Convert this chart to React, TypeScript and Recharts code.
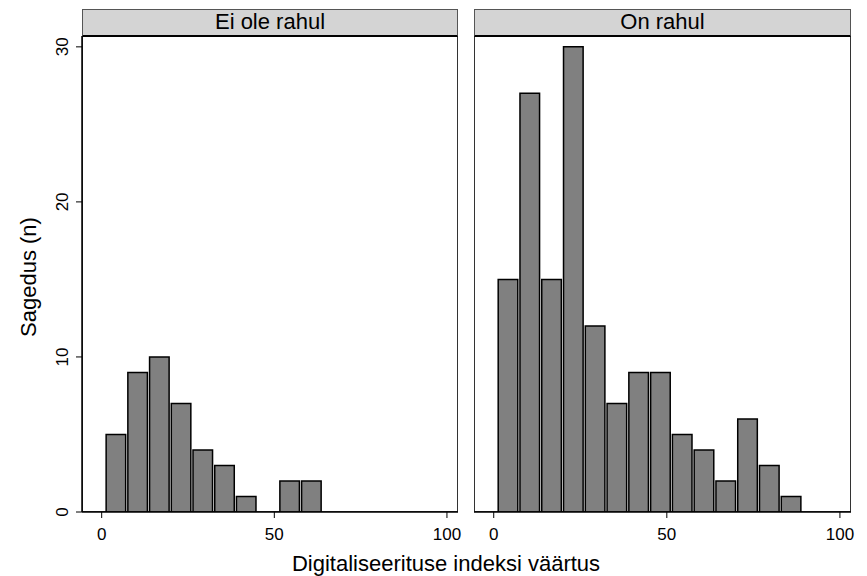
import React from 'react';
import { BarChart, Bar, XAxis, YAxis } from 'recharts';

// histogram bins (same edges for both panels)
const binStart = 1.0;
const binWidth = 6.29;

const panelTitles = ['Ei ole rahul', 'On rahul'];
const countsNotSatisfied = [5, 9, 10, 7, 4, 3, 1, 0, 2, 2];
const countsSatisfied = [15, 27, 15, 30, 12, 7, 9, 9, 5, 4, 2, 6, 3, 1];

const xTicks = [0, 50, 100];
const yTicks = [0, 10, 20, 30];
const xTitle = 'Digitaliseerituse indeksi väärtus';
const yTitle = 'Sagedus (n)';

const FONT = '"Liberation Sans", Arial, Helvetica, sans-serif';
const X_DOMAIN: [number, number] = [-5.7, 103.2];
const Y_DOMAIN: [number, number] = [0, 30.7];
const PLOT_TOP = 36;
const PLOT_BOTTOM = 512;
const CHART_H = 576;

const toBins = (counts: number[]) =>
  counts.map((n, i) => ({ mid: binStart + (i + 0.5) * binWidth, n }));

const YTick = (props: any) => {
  const { y, payload } = props;
  const x = 68;
  return (
    <text
      x={x}
      y={y}
      transform={`rotate(-90, ${x}, ${y})`}
      textAnchor="middle"
      fontSize={17}
      fill="#000"
      fontFamily={FONT}
    >
      {payload.value}
    </text>
  );
};

interface PanelProps {
  title: string;
  counts: number[];
  left: number;
  plotLeft: number;
  plotRight: number;
  showY: boolean;
}

const Panel = ({ title, counts, left, plotLeft, plotRight, showY }: PanelProps) => {
  const data = toBins(counts);
  const yAxisW = showY ? plotLeft - left : 0;
  const marginLeft = showY ? 0 : plotLeft - left;
  const width = plotRight - left + 12;
  const plotW = plotRight - plotLeft;
  const barSize = (binWidth * plotW) / (X_DOMAIN[1] - X_DOMAIN[0]);

  return (
    <>
      <div
        style={{
          position: 'absolute',
          left: plotLeft,
          top: 9,
          width: plotW,
          height: PLOT_BOTTOM - 9,
          boxSizing: 'border-box',
          border: '1px solid #333',
        }}
      />
      <div
        style={{
          position: 'absolute',
          left: plotLeft,
          top: 9,
          width: plotW,
          height: PLOT_TOP - 9 + 1,
          boxSizing: 'border-box',
          background: '#d4d4d4',
          border: '1px solid #555',
          borderBottom: '2px solid #000',
          textAlign: 'center',
          fontSize: 22,
          lineHeight: '24px',
          color: '#000',
        }}
      >
        {title}
      </div>
      <div style={{ position: 'absolute', left, top: 0 }}>
        <BarChart
          width={width}
          height={CHART_H}
          data={data}
          margin={{ top: PLOT_TOP, right: 12, bottom: 0, left: marginLeft }}
        >
          <XAxis
            dataKey="mid"
            type="number"
            domain={X_DOMAIN}
            ticks={xTicks}
            allowDataOverflow
            height={CHART_H - PLOT_BOTTOM}
            tickSize={6}
            tickMargin={10}
            axisLine={{ stroke: '#000', strokeWidth: 1.5 }}
            tickLine={{ stroke: '#000', strokeWidth: 1 }}
            tick={{ fontSize: 17, fill: '#000', fontFamily: FONT }}
          />
          <YAxis
            type="number"
            domain={Y_DOMAIN}
            ticks={yTicks}
            allowDataOverflow
            hide={!showY}
            width={yAxisW}
            tickSize={6}
            axisLine={{ stroke: '#000', strokeWidth: 1.5 }}
            tickLine={{ stroke: '#000', strokeWidth: 1 }}
            tick={<YTick />}
          />
          <Bar
            dataKey="n"
            fill="#808080"
            stroke="#000"
            strokeWidth={1.5}
            barSize={barSize}
            isAnimationActive={false}
          />
        </BarChart>
      </div>
    </>
  );
};

export default function App() {
  return (
    <div
      style={{
        position: 'absolute',
        left: 0,
        top: 0,
        width: 867,
        height: 576,
        background: '#fff',
        fontFamily: FONT,
        overflow: 'hidden',
      }}
    >
      <Panel title={panelTitles[0]} counts={countsNotSatisfied} left={0} plotLeft={82} plotRight={458} showY />
      <Panel title={panelTitles[1]} counts={countsSatisfied} left={462} plotLeft={474} plotRight={851} showY={false} />
      <svg width={867} height={576} style={{ position: 'absolute', left: 0, top: 0, pointerEvents: 'none' }}>
        <text
          x={36}
          y={277}
          transform="rotate(-90, 36, 277)"
          textAnchor="middle"
          fontSize={22}
          fill="#000"
          fontFamily={FONT}
        >
          {yTitle}
        </text>
        <text x={446} y={571} textAnchor="middle" fontSize={22} fill="#000" fontFamily={FONT}>
          {xTitle}
        </text>
      </svg>
    </div>
  );
}
